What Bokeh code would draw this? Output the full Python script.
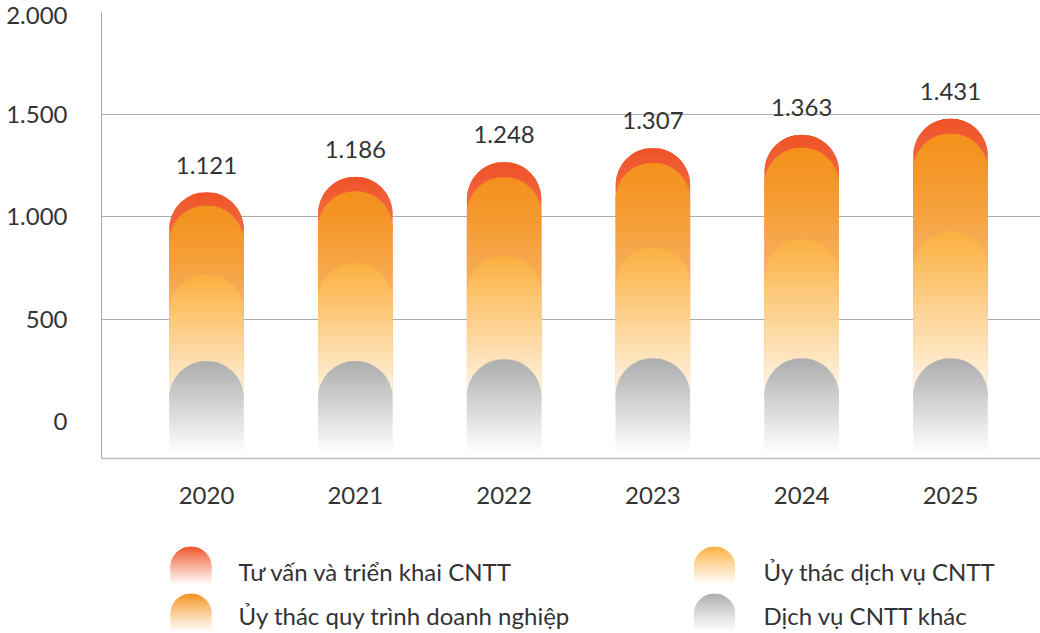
import numpy as np
from bokeh.plotting import figure
from bokeh.models import Range1d, LinearAxis, FixedTicker, Grid, ColumnDataSource
from bokeh.embed import file_html
from bokeh.resources import INLINE
from bokeh.core.properties import value

# ---------------- data ----------------
years = ["2020", "2021", "2022", "2023", "2024", "2025"]
series_names = ["Tư vấn và triển khai CNTT", "Ủy thác quy trình doanh nghiệp",
                "Ủy thác dịch vụ CNTT", "Dịch vụ CNTT khác"]
tu_van = [56, 61, 64, 62, 54, 63]                 # Tư vấn và triển khai CNTT
uy_thac_qt = [291, 304, 334, 357, 387, 413]       # Ủy thác quy trình doanh nghiệp
uy_thac_dv = [364, 411, 432, 466, 500, 533]       # Ủy thác dịch vụ CNTT
dich_vu_khac = [410, 410, 418, 422, 422, 422]     # Dịch vụ CNTT khác
totals = [1121, 1186, 1248, 1307, 1363, 1431]
y_ticks = [0, 500, 1000, 1500, 2000]

# ---------------- style / layout ----------------
FONT = "Lato"
FS = "24px"
TXT = "#333333"
W = 1040
FRAME_W, FRAME_H = 939, 446
ML, MT, MB = 101, 12, 62
H_MAIN = MT + FRAME_H + MB
CAT_PX = 148.8
X0 = -105.0 / CAT_PX
X1 = X0 + FRAME_W / CAT_PX
BAR_RANGE = FRAME_H / 0.2376          # bar value scale
AX_RANGE = (-181.0, 2000.0)           # printed axis scale
HALF_W = 0.25                         # half bar width, in category units

COL_TOP = ["#EF5226", "#F4911D", "#FBB03F", "#ADADAD"]
FADE_END = [1.0, 1.0, 0.8, 0.95]      # fraction of pill length where it reaches white
GAMMA = [1.0, 1.3, 1.0, 1.0]


def hex2rgb(h):
    h = h.lstrip("#")
    return np.array([int(h[i:i + 2], 16) for i in (0, 2, 4)], dtype=float)


def mix(c1, t):
    a, b = hex2rgb(c1), np.array([255.0, 255.0, 255.0])
    t = min(max(t, 0.0), 1.0)
    c = a + (b - a) * t
    return "#%02x%02x%02x" % tuple(int(round(v)) for v in c)


def shade(s, t):
    return mix(COL_TOP[s], min(t / FADE_END[s], 1.0) ** GAMMA[s])


# stacked tops: red = total, orange, yellow, gray
cum_gray = np.array(dich_vu_khac, float)
cum_yel = cum_gray + np.array(uy_thac_dv)
cum_org = cum_yel + np.array(uy_thac_qt)
cum_red = cum_org + np.array(tu_van)
pill_tops = [cum_red, cum_org, cum_yel, cum_gray]

xs = np.arange(len(years), dtype=float)

p = figure(width=W, height=H_MAIN, x_range=Range1d(X0, X1), y_range=Range1d(0, BAR_RANGE),
           output_backend="svg", toolbar_location=None, y_axis_location=None,
           min_border_left=ML, min_border_right=0, min_border_top=MT, min_border_bottom=MB)
p.outline_line_color = None
p.background_fill_color = "white"
p.border_fill_color = "white"
p.xgrid.visible = False
p.ygrid.visible = False
p.extra_y_ranges = {"ax": Range1d(*AX_RANGE)}

px_per_ax = FRAME_H / (AX_RANGE[1] - AX_RANGE[0])
px_per_bar = FRAME_H / BAR_RANGE

# gridlines (axis values converted to the bar scale)
grid_vals = [(v - AX_RANGE[0]) * px_per_ax / px_per_bar for v in y_ticks[1:]]
g = Grid(dimension=1, ticker=FixedTicker(ticks=grid_vals), grid_line_color="#ADADAD",
         grid_line_width=1)
p.add_layout(g)

# y axis
top_tick = int(round(y_ticks[-1] - 3 / px_per_ax))
tick_pos = y_ticks[:-1] + [top_tick]
overrides = {}
for tp, tv in zip(tick_pos, y_ticks):
    overrides[tp] = f"{tv:,}".replace(",", ".")
yax = LinearAxis(y_range_name="ax", ticker=FixedTicker(ticks=tick_pos),
                 major_label_overrides=overrides)
yax.axis_line_color = "#A8A8A8"
yax.major_tick_line_color = None
yax.minor_tick_line_color = None
yax.major_label_standoff = 28
yax.major_label_text_font = FONT
yax.major_label_text_font_size = FS
yax.major_label_text_color = TXT
p.add_layout(yax, "left")

# x axis
xa = p.xaxis[0]
xa.ticker = FixedTicker(ticks=list(range(len(years))))
xa.major_label_overrides = {i: y for i, y in enumerate(years)}
xa.axis_line_color = "#BDBDBD"
xa.axis_line_width = 1.5
xa.major_tick_line_color = None
xa.minor_tick_line_color = None
xa.major_label_standoff = 22
xa.major_label_text_font = FONT
xa.major_label_text_font_size = FS
xa.major_label_text_color = TXT


def pill(s, xc, top, bottom, hw_x, r_y, step_y, cap_step_y, ov):
    """Gradient pill: quads (body + cap slices) and cap wedge centre/colour."""
    L, R, B, T, C = [], [], [], [], []
    length = top - bottom
    cc = top - r_y
    n = max(int(np.ceil((cc - bottom) / step_y)), 1)
    edges = np.linspace(bottom, cc, n + 1)
    for k in range(n):
        mid = 0.5 * (edges[k] + edges[k + 1])
        L.append(xc - hw_x)
        R.append(xc + hw_x)
        B.append(edges[k])
        T.append(edges[k + 1] + ov)
        C.append(shade(s, (top - mid) / length))
    m = max(int(np.ceil(r_y / cap_step_y)), 1)
    cedges = np.linspace(cc, top, m + 1)
    for k in range(m):
        up = cedges[k + 1] - cc
        frac = np.sqrt(max(1 - (up / r_y) ** 2, 0.0))
        if frac <= 0:
            continue
        mid = 0.5 * (cedges[k] + cedges[k + 1])
        L.append(xc - hw_x * frac)
        R.append(xc + hw_x * frac)
        B.append(cedges[k])
        T.append(cedges[k + 1] + ov * 0.5)
        C.append(shade(s, (top - mid) / length))
    wedge_col = shade(s, 0.35 * r_y / length)
    return L, R, B, T, C, cc, wedge_col


# pills in the chart
r_px = HALF_W * CAT_PX
r_y = r_px / px_per_bar
for s in range(4):
    L, R, B, T, C = [], [], [], [], []
    cx, cy, wc = [], [], []
    for i, xc in enumerate(xs):
        l, r, b, t, c, cc, wcol = pill(s, xc, pill_tops[s][i], 0.0, HALF_W, r_y,
                                       2.0 / px_per_bar, 1.0 / px_per_bar, 1.0 / px_per_bar)
        L += l; R += r; B += b; T += t; C += c
        cx.append(xc); cy.append(cc); wc.append(wcol)
    p.wedge(x=cx, y=cy, radius=HALF_W, start_angle=0, end_angle=np.pi,
            fill_color=wc, line_color=None)
    src = ColumnDataSource(dict(left=L, right=R, bottom=B, top=T, color=C))
    p.quad(left="left", right="right", bottom="bottom", top="top", fill_color="color",
           line_color=None, source=src)

# total labels
p.text(x=xs, y=totals, text=[f"{v:,}".replace(",", ".") for v in totals],
       y_offset=-27, text_align="center", text_baseline="middle",
       text_font=value(FONT), text_font_size=FS, text_color=TXT)

# ---------------- legend figure ----------------
LH = 633 - H_MAIN
leg = figure(width=W, height=LH, x_range=Range1d(0, W), y_range=Range1d(0, LH),
             output_backend="svg", toolbar_location=None, x_axis_location=None,
             y_axis_location=None, min_border=0)
leg.outline_line_color = None
leg.grid.visible = False
leg.background_fill_color = "white"
leg.border_fill_color = "white"

icon_x = [190.5, 190.5, 714.0, 714.0]
icon_top = [87.0, 40.0, 87.0, 40.0]
text_x = [238.0, 238.0, 763.0, 763.0]
text_y = [62.5, 18.0, 62.5, 18.0]
IR = 20.5
IL = 38.0
for j in range(4):
    s = j
    l, r, b, t, c, cc, wcol = pill(s, icon_x[j], icon_top[j], icon_top[j] - IL,
                                   IR, IR, 1.5, 1.0, 0.8)
    c = [mix(COL_TOP[s], min(((icon_top[j] - 0.5 * (bb + tt)) / IL) ** 0.9, 1.0))
         for bb, tt in zip(b, t)]
    leg.wedge(x=[icon_x[j]], y=[cc], radius=IR, start_angle=0, end_angle=np.pi,
              fill_color=COL_TOP[s], line_color=None)
    leg.quad(left=l, right=r, bottom=b, top=t, fill_color=c, line_color=None)
    leg.text(x=[text_x[j]], y=[text_y[j]], text=[series_names[s]], text_align="left",
             text_baseline="middle", text_font=value(FONT), text_font_size=FS,
             text_color=TXT)

open("out.html", "w").write(file_html([p, leg], INLINE))
